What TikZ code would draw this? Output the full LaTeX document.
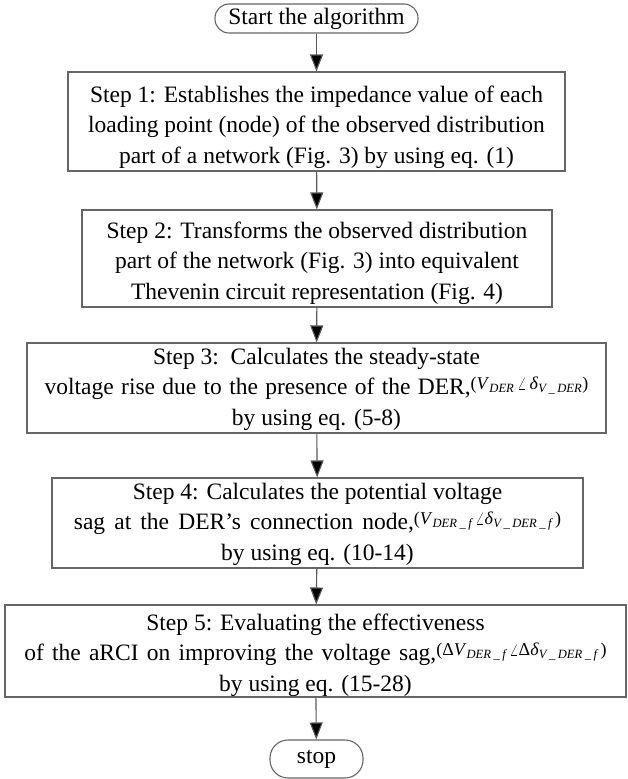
\documentclass[tikz,border=0pt]{standalone}
\usepackage{fontspec}
\setmainfont{Liberation Serif}
\usetikzlibrary{arrows.meta}
\newcommand{\mth}[1]{\raisebox{5pt}{\fontsize{18}{18}\selectfont #1}}
\newcommand{\ssub}[1]{\textsubscript{\itshape #1}}
\newcommand{\usc}{\hspace{2.5pt}\_\hspace{2.5pt}}
\begin{document}
\begin{tikzpicture}[x=1pt,y=1pt,
  every node/.style={font=\fontsize{23.5}{30.5}\selectfont, text=black},
  stepbox/.style={draw=black!60, line width=1.1pt, inner sep=0pt},
  steptext/.style={align=center, inner sep=0pt},
  termbox/.style={draw=black!60, line width=1.1pt, rounded corners=14pt, inner sep=0pt},
  flow/.style={draw=black!65, line width=1.1pt, -{Triangle[width=13pt,length=17pt,fill=black]}}]
\useasboundingbox (0,0) rectangle (627,-779);
\node[termbox, minimum width=203pt, minimum height=29pt] (start) at (316.5,-18.5) {Start the algorithm};
% Step 1
\node[stepbox, minimum width=497pt, minimum height=99pt] (s1) at (316.5,-121.5) {};
\node[steptext] (s1t) at (316.5,-127) {Step 1: Establishes the impedance value of each\\
   loading point (node) of the observed distribution\\
   part of a network (Fig. 3) by using eq. (1)};
% Step 2
\node[stepbox, minimum width=470pt, minimum height=97pt] (s2) at (317,-258.5) {};
\node[steptext] (s2t) at (317,-263) {Step 2: Transforms the observed distribution\\
   part of the network (Fig. 3) into equivalent\\
   Thevenin circuit representation (Fig. 4)};
% Step 3
\node[stepbox, minimum width=579pt, minimum height=90pt] (s3) at (316.5,-388) {};
\node[steptext] (s3t) at (316.5,-389) {Step 3:\ \ Calculates the steady-state\\
   \makebox[426pt][s]{voltage rise due to the presence of the DER,}\mth{(\textit{V}\ssub{DER}\,$\angle$\,\textit{δ}\ssub{V\usc DER})}\\
   by using eq. (5-8)};
% Step 4
\node[stepbox, minimum width=531pt, minimum height=90pt] (s4) at (317.5,-523) {};
\node[steptext] (s4t) at (317.5,-524) {Step 4: Calculates the potential voltage\\
   \makebox[340pt][s]{sag at the DER’s connection node,}\mth{(\textit{V}\ssub{DER\usc f}\,$\angle$\textit{δ}\ssub{V\usc DER\usc f}\,)}\\
   by using eq. (10-14)};
% Step 5
\node[stepbox, minimum width=621pt, minimum height=92pt] (s5) at (315.5,-651) {};
\node[steptext] (s5t) at (315.5,-655) {Step 5: Evaluating the effectiveness\\
   \makebox[412pt][s]{of the aRCI on improving the voltage sag,}\mth{(Δ\textit{V}\ssub{DER\usc f}\,$\angle$Δ\textit{δ}\ssub{V\usc DER\usc f}\,)}\\
   by using eq. (15-28)};
\node[termbox, rounded corners=18pt, minimum width=93pt, minimum height=38pt] (stop) at (316.5,-759) {stop};
\draw[flow] (start) -- (s1);
\draw[flow] (s1) -- (s2);
\draw[flow] (s2) -- (s3);
\draw[flow] (s3) -- (s4);
\draw[flow] (s4) -- (s5);
\draw[flow] (s5) -- (stop);
\end{tikzpicture}
\end{document}
